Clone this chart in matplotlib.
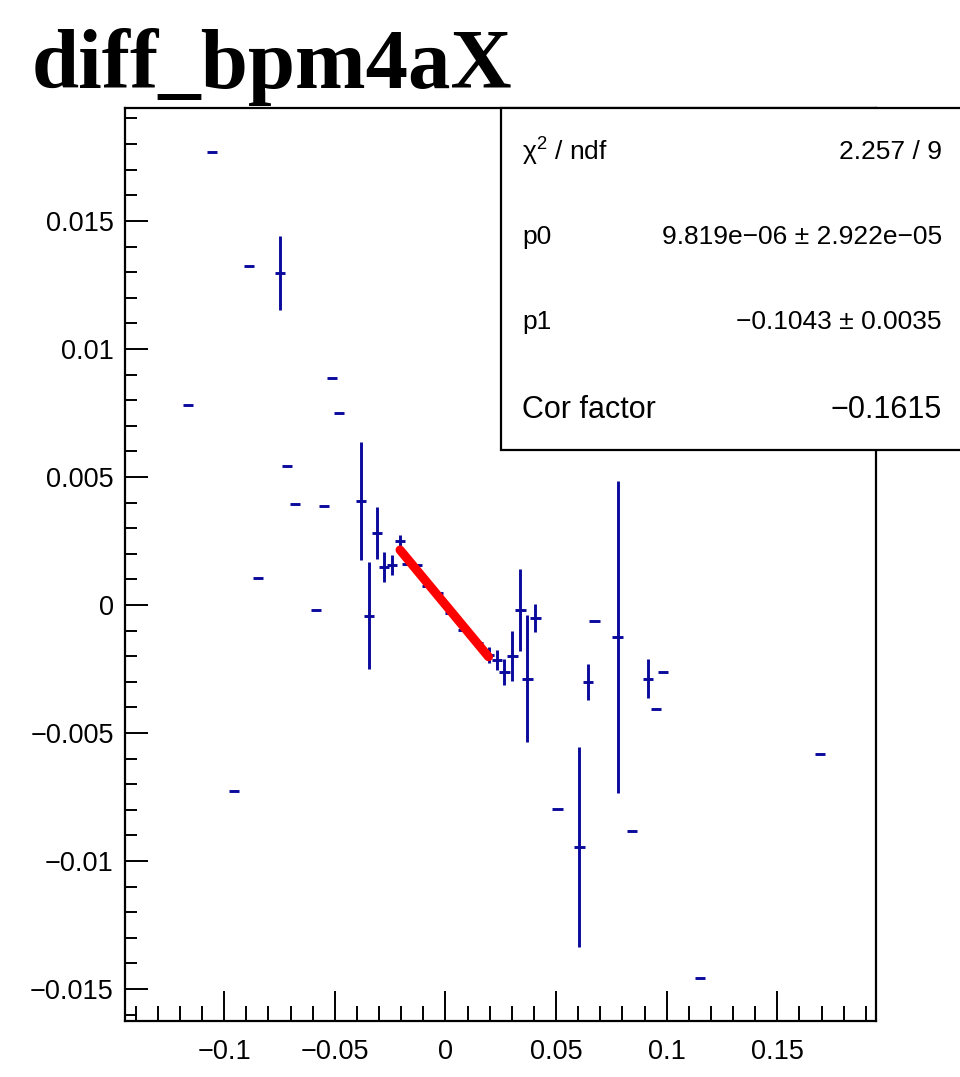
import numpy as np
import matplotlib
matplotlib.use("Agg")
import matplotlib.pyplot as plt
from matplotlib.patches import Rectangle
from matplotlib.ticker import MultipleLocator, FuncFormatter


TITLE = "diff_bpm4aX"

# graph points (x, y, y error); x error is the same for every point
X_VALS = [-0.1054, -0.0887, -0.0747, -0.1163, -0.0511, -0.0480, -0.0715, -0.0679,
          -0.0548, -0.0380, -0.0308, -0.0846, -0.0584, -0.0344, -0.0276, -0.0240,
          -0.0204, -0.0172, -0.0127, -0.0081, -0.0032, 0.0023, 0.0081, 0.0149,
          0.0195, 0.0235, 0.0267, 0.0303, 0.0339, 0.0371, 0.0407, 0.0507,
          0.0606, 0.0643, 0.0674, 0.0778, 0.0842, 0.0914, 0.0982, 0.0950,
          0.1149, 0.1692, -0.0955]
Y_VALS = [0.01770, 0.01324, 0.01297, 0.00781, 0.00887, 0.00750, 0.00543, 0.00395,
          0.00387, 0.00406, 0.00281, 0.00105, -0.00020, -0.00043, 0.00148, 0.00156,
          0.00250, 0.00160, 0.00156, 0.00074, 0.00047, -0.00031, -0.00098, -0.00148,
          -0.00195, -0.00215, -0.00262, -0.00199, -0.00020, -0.00289, -0.00050, -0.00797,
          -0.00945, -0.00300, -0.00063, -0.00125, -0.00883, -0.00289, -0.00262, -0.00406,
          -0.01457, -0.00582, -0.00727]
Y_ERRS = [0.0, 0.0, 0.00145, 0.0, 0.0, 0.0, 0.0, 0.0,
          0.0, 0.00230, 0.00102, 0.0, 0.0, 0.00209, 0.00057, 0.00039,
          0.00025, 0.00005, 0.00005, 0.00005, 0.00005, 0.00005, 0.00005, 0.00005,
          0.00030, 0.00040, 0.00050, 0.00098, 0.00160, 0.00248, 0.00055, 0.0,
          0.00390, 0.00070, 0.0, 0.00610, 0.0, 0.00076, 0.0, 0.0,
          0.0, 0.0, 0.0]
X_ERR = 0.0023

# linear fit (pol1) result
P0 = 9.819e-06
P1 = -0.1043
FIT_RANGE = [-0.0205, 0.0195]

STAT_LABELS = ["χ$^{2}$ / ndf", "p0", "p1", "Cor factor"]
STAT_VALUES = ["2.257 / 9", "9.819e−06 ± 2.922e−05", "−0.1043 ± 0.0035", "−0.1615"]

X_LIM = (-0.1448, 0.1946)
Y_LIM = (-0.01625, 0.01941)

W, H = 960, 1077
SANS = ["Liberation Sans", "DejaVu Sans"]

plt.rcParams["mathtext.fontset"] = "custom"
plt.rcParams["mathtext.rm"] = "Liberation Sans"
plt.rcParams["mathtext.it"] = "Liberation Sans"
plt.rcParams["mathtext.bf"] = "Liberation Sans:bold"


def fmt_tick(v, pos):
    s = f"{v:g}"
    if abs(v) < 1e-12:
        s = "0"
    return s.replace("-", "\u2212")


fig = plt.figure(figsize=(W / 100, H / 100), dpi=100)
ax = fig.add_axes([125 / W, 1 - 1021 / H, (876 - 125) / W, (1021 - 108) / H])

ax.errorbar(X_VALS, Y_VALS, xerr=X_ERR, yerr=Y_ERRS, fmt="none",
            ecolor="#0a0a9c", elinewidth=2.1, capsize=0, zorder=2)

fx = np.array(FIT_RANGE)
ax.plot(fx, P0 + P1 * fx, color="#ff0000", lw=6.5, solid_capstyle="round", zorder=3)

ax.set_xlim(*X_LIM)
ax.set_ylim(*Y_LIM)

ax.xaxis.set_major_locator(MultipleLocator(0.05))
ax.xaxis.set_minor_locator(MultipleLocator(0.01))
ax.yaxis.set_major_locator(MultipleLocator(0.005))
ax.yaxis.set_minor_locator(MultipleLocator(0.001))
ax.xaxis.set_major_formatter(FuncFormatter(fmt_tick))
ax.yaxis.set_major_formatter(FuncFormatter(fmt_tick))

ax.tick_params(axis="both", which="both", direction="in", width=1.4, color="black",
               top=False, right=False)
ax.tick_params(axis="x", which="major", length=21.5, pad=13)
ax.tick_params(axis="x", which="minor", length=10.8)
ax.tick_params(axis="y", which="major", length=16.5, pad=8)
ax.tick_params(axis="y", which="minor", length=8.6)

for lab in ax.get_xticklabels() + ax.get_yticklabels():
    lab.set_family(SANS)
    lab.set_fontsize(19.5)

for sp in ax.spines.values():
    sp.set_linewidth(1.6)

# title
fig.text(32 / W, 1 - 88 / H, TITLE, family=["Liberation Serif", "DejaVu Serif"],
         fontweight="bold", fontsize=61, ha="left", va="baseline")

# stats box (runs past the right edge of the canvas like the original)
box = Rectangle((501 / W, 1 - 450 / H), (975 - 501) / W, (450 - 108) / H,
                transform=fig.transFigure, facecolor="white", edgecolor="black",
                linewidth=1.6, zorder=5, clip_on=False)
fig.add_artist(box)

row_y = [152, 237, 322, 410]
for i, (lab, val) in enumerate(zip(STAT_LABELS, STAT_VALUES)):
    size = 22 if lab == "Cor factor" else 19
    fig.text(522 / W, 1 - row_y[i] / H, lab, family=SANS, fontsize=size,
             ha="left", va="center", zorder=6)
    fig.text(942 / W, 1 - row_y[i] / H, val, family=SANS, fontsize=size,
             ha="right", va="center", zorder=6)

fig.savefig("out.png", dpi=100, facecolor="white")
